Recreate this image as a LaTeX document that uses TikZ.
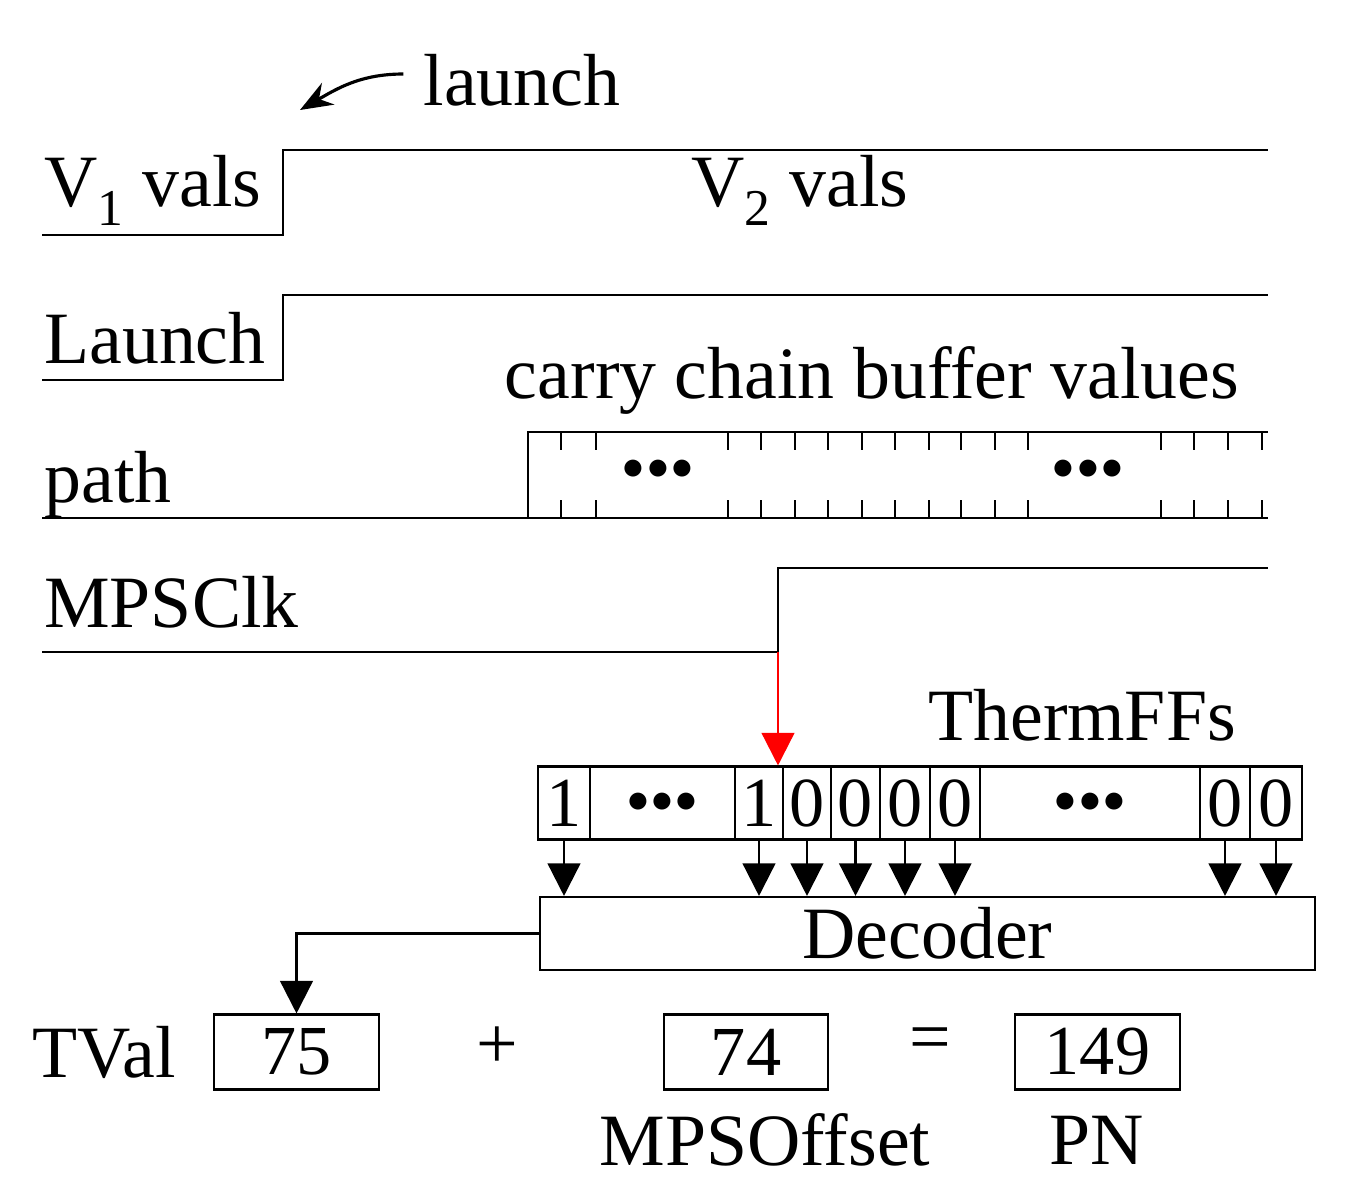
\documentclass[tikz,border=0pt]{standalone}
\usepackage{fontspec}
\setmainfont{Liberation Serif}
\usetikzlibrary{arrows.meta}
\tikzset{
  sig/.style={line width=1.4pt},
  big/.style={font=\fontsize{42}{48}\selectfont, inner sep=0pt},
  cell/.style={draw, line width=1.2pt, minimum height=1.46cm, inner sep=0pt, font=\fontsize{40}{44}\selectfont},
  dots/.style={font=\fontsize{30}{30}\selectfont\bfseries, inner sep=0pt},
  fatarrow/.style={line width=1.4pt, -{Triangle[length=0.65cm, width=0.65cm]}}
}
\begin{document}
\begin{tikzpicture}[x=0.02cm, y=-0.02cm]
            \useasboundingbox (0,0) rectangle (1345,1194);
            % Waveforms
            \draw[sig] (42,235) -- (283,235) -- (283,150) -- (1268,150);
            \draw[sig] (42,380) -- (283,380) -- (283,295) -- (1268,295);
            \draw[sig] (42,652) -- (778,652) -- (778,568) -- (1268,568);
            \coordinate (clkedge) at (778,652);
            \node[big, anchor=west] (v1) at (44,190) {V\textsubscript{1} vals};
            \node[big] (v2) at (800,190) {V\textsubscript{2} vals};
            \node[big, anchor=west] (launchsig) at (44,338) {Launch};
            \node[big, anchor=west] (clk) at (44,602) {MPSClk};
            \node[big] (lnch) at (522,80) {launch};
            \coordinate (lnchtip) at (300,110);
            \draw[line width=1.8pt, -{Stealth[length=0.65cm, width=0.5cm]}] (lnch.west) ++(-20,-6) to[out=180, in=30] (lnchtip);
            
            % Carry chain
            \node[big, anchor=west] (path) at (44,485) {path};
            \node[big] (chain) at (872,380) {carry chain buffer values};
            \draw[sig] (42,518) -- (1268,518);
            \draw[sig] (528,518) -- (528,432) -- (1268,432);
            \foreach \x in {561,596,728,761,795,828,862,895,929,961,995,1028,1161,1194,1228,1262} {
                \draw[line width=1.5pt] (\x,432) -- (\x,450);
                \draw[line width=1.5pt] (\x,500) -- (\x,518);
            }
            \node[dots] (d1) at (658,470) {$\bullet\!\bullet\!\bullet$};
            \node[dots] (d2) at (1088,470) {$\bullet\!\bullet\!\bullet$};
            
            % Thermometer flip-flops
            \node[big] (therm) at (1082,715) {ThermFFs};
            \node[cell, minimum width=1.04cm] (c1) at (564,803) {1};
            \node[cell, minimum width=2.9cm] (c2) at (662.5,803) {$\bullet\!\bullet\!\bullet$};
            \node[cell, minimum width=0.96cm] (c3) at (759,803) {1};
            \node[cell, minimum width=0.96cm] (c4) at (807,803) {0};
            \node[cell, minimum width=0.98cm] (c5) at (855.5,803) {0};
            \node[cell, minimum width=1cm] (c6) at (905,803) {0};
            \node[cell, minimum width=1cm] (c7) at (955,803) {0};
            \node[cell, minimum width=4.4cm] (c8) at (1090,803) {$\bullet\!\bullet\!\bullet$};
            \node[cell, minimum width=1cm] (c9) at (1225,803) {0};
            \node[cell, minimum width=1.04cm] (c10) at (1276,803) {0};
            \draw[line width=1.4pt, red, -{Triangle[length=0.65cm, width=0.65cm]}] (clkedge) -- (clkedge |- c3.north);
            
            % Decoder
            \node[cell, minimum width=15.5cm, minimum height=1.46cm, font=\fontsize{42}{48}\selectfont] (dec) at (927.5,933.5) {Decoder};
            \foreach \c in {c1,c3,c4,c5,c6,c7,c9,c10} {
                \draw[fatarrow] (\c.south) -- (\c.south |- dec.north);
            }
            
            % Result
            \node[big, anchor=west] (tval) at (32,1052) {TVal};
            \node[cell, minimum width=3.3cm, minimum height=1.5cm] (b75) at (296.5,1052) {75};
            \node[big] (plus) at (497,1048) {+};
            \node[cell, minimum width=3.28cm, minimum height=1.5cm] (b74) at (746,1052) {74};
            \node[big] (eq) at (930,1045) {=};
            \node[cell, minimum width=3.3cm, minimum height=1.5cm] (b149) at (1097.5,1052) {149};
            \node[big] (off) at (765,1140) {MPSOffset};
            \node[big] (pn) at (1097,1140) {PN};
            \draw[fatarrow] (dec.west) -| (b75.north);
\end{tikzpicture}
\end{document}
